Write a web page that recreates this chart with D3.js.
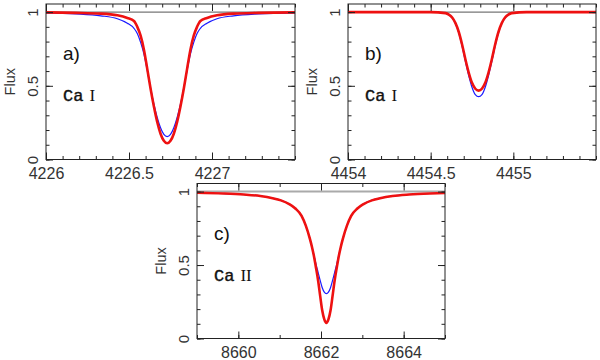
<!DOCTYPE html>
<html><head><meta charset="utf-8">
<script src="https://cdn.jsdelivr.net/npm/d3@7"></script>
<style>body{margin:0;background:#fff}svg{display:block}</style>
</head><body>
<script>
// ---------- DATA ----------
// Panel a: Ca I 4226.7
const waveA = [4226.00,4226.18,4226.33,4226.43,4226.49,4226.53,4226.55,4226.57,4226.59,4226.61,4226.63,4226.65,4226.67,4226.69,4226.71,4226.73,4226.75,4226.77,4226.79,4226.81,4226.83,4226.85,4226.87,4226.89,4226.91,4226.93,4226.97,4227.03,4227.13,4227.28,4227.50];
const blueA = [0.995,0.988,0.975,0.955,0.925,0.890,0.855,0.795,0.715,0.605,0.485,0.375,0.285,0.215,0.170,0.155,0.170,0.215,0.285,0.375,0.485,0.605,0.715,0.795,0.855,0.890,0.925,0.955,0.975,0.988,0.995];
const redA  = [0.998,0.995,0.990,0.978,0.960,0.940,0.900,0.840,0.745,0.615,0.480,0.360,0.255,0.175,0.127,0.110,0.127,0.175,0.255,0.360,0.480,0.615,0.745,0.840,0.900,0.940,0.960,0.978,0.990,0.995,0.998];
// Panel b: Ca I 4454.8
const waveB = [4454.00,4454.30,4454.50,4454.59,4454.61,4454.63,4454.65,4454.67,4454.69,4454.71,4454.73,4454.75,4454.77,4454.79,4454.81,4454.83,4454.85,4454.87,4454.89,4454.91,4454.93,4454.95,4454.97,4454.99,4455.08,4455.30,4455.50];
const blueB = [1.000,1.000,1.000,0.993,0.982,0.961,0.922,0.860,0.770,0.665,0.570,0.490,0.440,0.426,0.440,0.490,0.570,0.665,0.770,0.860,0.922,0.961,0.982,0.993,1.000,1.000,1.000];
const redB  = [1.000,1.000,1.000,0.993,0.983,0.963,0.925,0.865,0.780,0.680,0.590,0.520,0.480,0.467,0.480,0.520,0.590,0.680,0.780,0.865,0.925,0.963,0.983,0.993,1.000,1.000,1.000];
// Panel c: Ca II 8662.1
const waveC = [8659.00,8659.63,8660.13,8660.53,8660.83,8661.03,8661.23,8661.38,8661.53,8661.63,8661.73,8661.78,8661.83,8661.88,8661.93,8661.98,8662.03,8662.08,8662.13,8662.18,8662.23,8662.28,8662.33,8662.38,8662.43,8662.48,8662.53,8662.63,8662.73,8662.88,8663.03,8663.23,8663.43,8663.73,8664.13,8664.63,8665.00];
const blueC = [0.992,0.987,0.980,0.970,0.955,0.940,0.915,0.885,0.835,0.770,0.680,0.625,0.565,0.505,0.450,0.395,0.345,0.315,0.305,0.315,0.345,0.395,0.450,0.505,0.565,0.625,0.680,0.770,0.835,0.885,0.915,0.940,0.955,0.970,0.980,0.987,0.990];
const redC  = [0.992,0.987,0.980,0.970,0.955,0.940,0.915,0.885,0.835,0.770,0.680,0.625,0.560,0.480,0.395,0.290,0.190,0.130,0.106,0.130,0.190,0.290,0.395,0.480,0.560,0.625,0.680,0.770,0.835,0.885,0.915,0.940,0.955,0.970,0.980,0.987,0.990];

const xDomainA = [4226, 4227.5], xMajorA = [4226, 4226.5, 4227], xMinorA = d3.range(0,16).map(i=>+(4226+i*0.1).toFixed(1));
const xDomainB = [4454, 4455.5], xMajorB = [4454, 4454.5, 4455], xMinorB = d3.range(0,16).map(i=>+(4454+i*0.1).toFixed(1));
const xDomainC = [8659, 8665], xMajorC = [8660, 8662, 8664], xMinorC = [8659,8660,8661,8662,8663,8664,8665];
const yMajor = [0, 0.5, 1];
const yMinor = d3.range(0,11).map(i=>+(i*0.1).toFixed(1));
const panelLabels = ["a)", "b)", "c)"];
const ionLabels = [["Ca","I"],["Ca","I"],["Ca","II"]];
const yLabel = "Flux";

// ---------- DRAW ----------
const svg = d3.select("body").append("svg").attr("width",600).attr("height",360);
const panels = [
  {box:[46,295,4,159.5], dom:xDomainA, maj:xMajorA, min:xMinorA, wave:waveA, blue:blueA, red:redA, lab:panelLabels[0], ion:ionLabels[0], refCol:"#555", refW:1},
  {box:[348,596,4,159.5], dom:xDomainB, maj:xMajorB, min:xMinorB, wave:waveB, blue:blueB, red:redB, lab:panelLabels[1], ion:ionLabels[1], refCol:"#555", refW:1},
  {box:[197,445,183.5,338.5], dom:xDomainC, maj:xMajorC, min:xMinorC, wave:waveC, blue:blueC, red:redC, lab:panelLabels[2], ion:ionLabels[2], refCol:"#aaa", refW:2}
];
const tickFont = "'Liberation Sans', Arial, sans-serif";

panels.forEach(p=>{
  const [L,R,T,B] = p.box;
  const x = d3.scaleLinear().domain(p.dom).range([L,R]);
  const y = d3.scaleLinear().domain([0,1.055]).range([B,T]);
  const g = svg.append("g");
  const clipId = "clip"+L+"_"+T;
  svg.append("clipPath").attr("id",clipId).append("rect").attr("x",L).attr("y",T).attr("width",R-L).attr("height",B-T);

  // reference continuum line
  g.append("line").attr("x1",L).attr("x2",R).attr("y1",y(1)).attr("y2",y(1))
    .attr("stroke",p.refCol).attr("stroke-width",p.refW);

  const line = d3.line().x(d=>x(d[0])).y(d=>y(d[1])).curve(d3.curveMonotoneX);
  const cg = g.append("g").attr("clip-path",`url(#${clipId})`);
  cg.append("path").attr("d", line(p.wave.map((w,i)=>[w,p.blue[i]])))
    .attr("fill","none").attr("stroke","#1a1aff").attr("stroke-width",1.2);
  cg.append("path").attr("d", line(p.wave.map((w,i)=>[w,p.red[i]])))
    .attr("fill","none").attr("stroke","#ee1111").attr("stroke-width",2.6);

  const styleAxis = sel=>{ sel.select(".domain").remove(); sel.selectAll("line").attr("stroke","#222").attr("stroke-width",1); };
  // bottom axis
  g.append("g").attr("transform",`translate(0,${B})`)
    .call(d3.axisBottom(x).tickValues(p.min).tickSize(-3.5).tickFormat(""))
    .call(styleAxis);
  g.append("g").attr("transform",`translate(0,${B})`)
    .call(d3.axisBottom(x).tickValues(p.maj).tickSize(-7).tickPadding(8).tickFormat(d3.format("")))
    .call(styleAxis)
    .call(s=>s.selectAll("text").attr("font-family",tickFont).attr("font-size",16).attr("fill","#333"));
  // top axis
  g.append("g").attr("transform",`translate(0,${T})`)
    .call(d3.axisTop(x).tickValues(p.min).tickSize(-3.5).tickFormat("")).call(styleAxis);
  g.append("g").attr("transform",`translate(0,${T})`)
    .call(d3.axisTop(x).tickValues(p.maj).tickSize(-7).tickFormat("")).call(styleAxis);
  // left axis
  g.append("g").attr("transform",`translate(${L},0)`)
    .call(d3.axisLeft(y).tickValues(yMinor).tickSize(-3.5).tickFormat("")).call(styleAxis);
  g.append("g").attr("transform",`translate(${L},0)`)
    .call(d3.axisLeft(y).tickValues(yMajor).tickSize(-7).tickFormat(d3.format("")))
    .call(styleAxis)
    .call(s=>s.selectAll("text").attr("x",null).attr("dy",null)
      .attr("transform","translate(-8.5,0) rotate(-90)").attr("text-anchor","middle")
      .attr("font-family",tickFont).attr("font-size",15).attr("fill","#333"));
  // right axis
  g.append("g").attr("transform",`translate(${R},0)`)
    .call(d3.axisRight(y).tickValues(yMinor).tickSize(-3.5).tickFormat("")).call(styleAxis);
  g.append("g").attr("transform",`translate(${R},0)`)
    .call(d3.axisRight(y).tickValues(yMajor).tickSize(-7).tickFormat("")).call(styleAxis);

  // frame
  g.append("rect").attr("x",L).attr("y",T).attr("width",R-L).attr("height",B-T)
    .attr("fill","none").attr("stroke","#222").attr("stroke-width",1);

  // y label
  g.append("text").attr("transform",`translate(${L-31},${(T+B)/2}) rotate(-90)`)
    .attr("text-anchor","middle").attr("font-family",tickFont).attr("font-size",14.5).attr("fill","#333").text(yLabel);

  // panel label
  g.append("text").attr("x",L+17).attr("y",T+56).attr("font-family",tickFont).attr("font-size",19).attr("fill","#111").text(p.lab);
  const t = g.append("text").attr("x",L+17).attr("y",T+97).attr("fill","#111").attr("font-size",17);
  t.append("tspan").attr("font-family","'Liberation Mono', monospace").attr("stroke","#111").attr("stroke-width",0.4).text(p.ion[0]);
  t.append("tspan").attr("font-family","'Liberation Serif', serif").attr("dx",6).text(p.ion[1]);
});
</script>
</body></html>
